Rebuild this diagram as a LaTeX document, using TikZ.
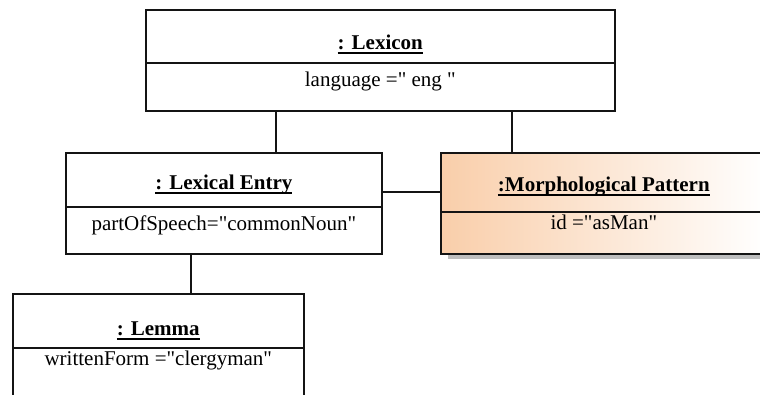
\documentclass[tikz,border=0pt]{standalone}
\usepackage{fontspec}
\setmainfont{Liberation Serif}[Ligatures=TeXOff]
\usetikzlibrary{positioning}

\definecolor{edge}{RGB}{20,20,20}
\definecolor{peach}{RGB}{249,206,170}
\definecolor{shadowgray}{RGB}{190,190,190}

% bold object name with a heavy underline
\newcommand\objname[1]{\setbox0\hbox{\bfseries #1}\rlap{\copy0}\rule[-4.6pt]{\wd0}{2pt}}

\tikzset{
  part/.style={draw=edge, line width=1.6pt, fill=white, inner sep=0pt, anchor=north west},
  label/.style={inner sep=0pt, anchor=base, font=\fontsize{21}{25}\selectfont, text=black},
  link/.style={draw=edge, line width=1.6pt},
}

\begin{document}
\begin{tikzpicture}[x=1pt, y=-1pt]
\useasboundingbox (0,0) rectangle (760,394);

% : Lexicon
\node[part, minimum width=469pt, minimum height=53pt] (lex) at (145,9) {};
\node[part, minimum width=469pt, minimum height=48pt] (lexattr) at (145,62) {};
\node[label] (lexname) at ([yshift=14pt]lex.south) {\objname{: Lexicon}};
\node[label] (lexval) at ([yshift=-24pt]lexattr.north) {language =" eng "};

% : Lexical Entry
\node[part, minimum width=316pt, minimum height=54pt] (entry) at (65,152) {};
\node[part, minimum width=316pt, minimum height=47pt] (entryattr) at (65,206) {};
\node[label] (entryname) at ([yshift=18pt]entry.south) {\objname{: Lexical Entry}};
\node[label] (entryval) at ([yshift=-24pt]entryattr.north) {partOfSpeech="commonNoun"};

% :Morphological Pattern, shaded with a drop shadow
\fill[shadowgray] (448,157) rectangle (776,259);
\node[part, shading=axis, left color=peach, right color=white, minimum width=326pt, minimum height=59pt] (morph) at (440,152) {};
\node[part, shading=axis, left color=peach, right color=white, minimum width=326pt, minimum height=42pt] (morphattr) at (440,211) {};
\node[label] (morphname) at ([yshift=21pt]morph.south) {\objname{:Morphological Pattern}};
\node[label] (morphval) at ([yshift=-18pt]morphattr.north) {id ="asMan"};

% : Lemma
\node[part, minimum width=291pt, minimum height=54pt] (lemma) at (12,293) {};
\node[part, minimum width=291pt, minimum height=70pt] (lemmaattr) at (12,347) {};
\node[label] (lemmaname) at ([yshift=13pt]lemma.south) {\objname{: Lemma}};
\node[label] (lemmaval) at ([yshift=-18pt]lemmaattr.north) {writtenForm ="clergyman"};

% links
\draw[link] ([xshift=52pt]entry.north) -- ([xshift=52pt]entry.north |- lexattr.south);
\draw[link] ([xshift=-92pt]morph.north) -- ([xshift=-92pt]morph.north |- lexattr.south);
\draw[link] ([yshift=-40pt]entry.north east) -- ([yshift=-40pt]entry.north east -| morph.west);
\draw[link] ([xshift=-33pt]entryattr.south) -- ([xshift=-33pt]entryattr.south |- lemma.north);
\end{tikzpicture}
\end{document}
